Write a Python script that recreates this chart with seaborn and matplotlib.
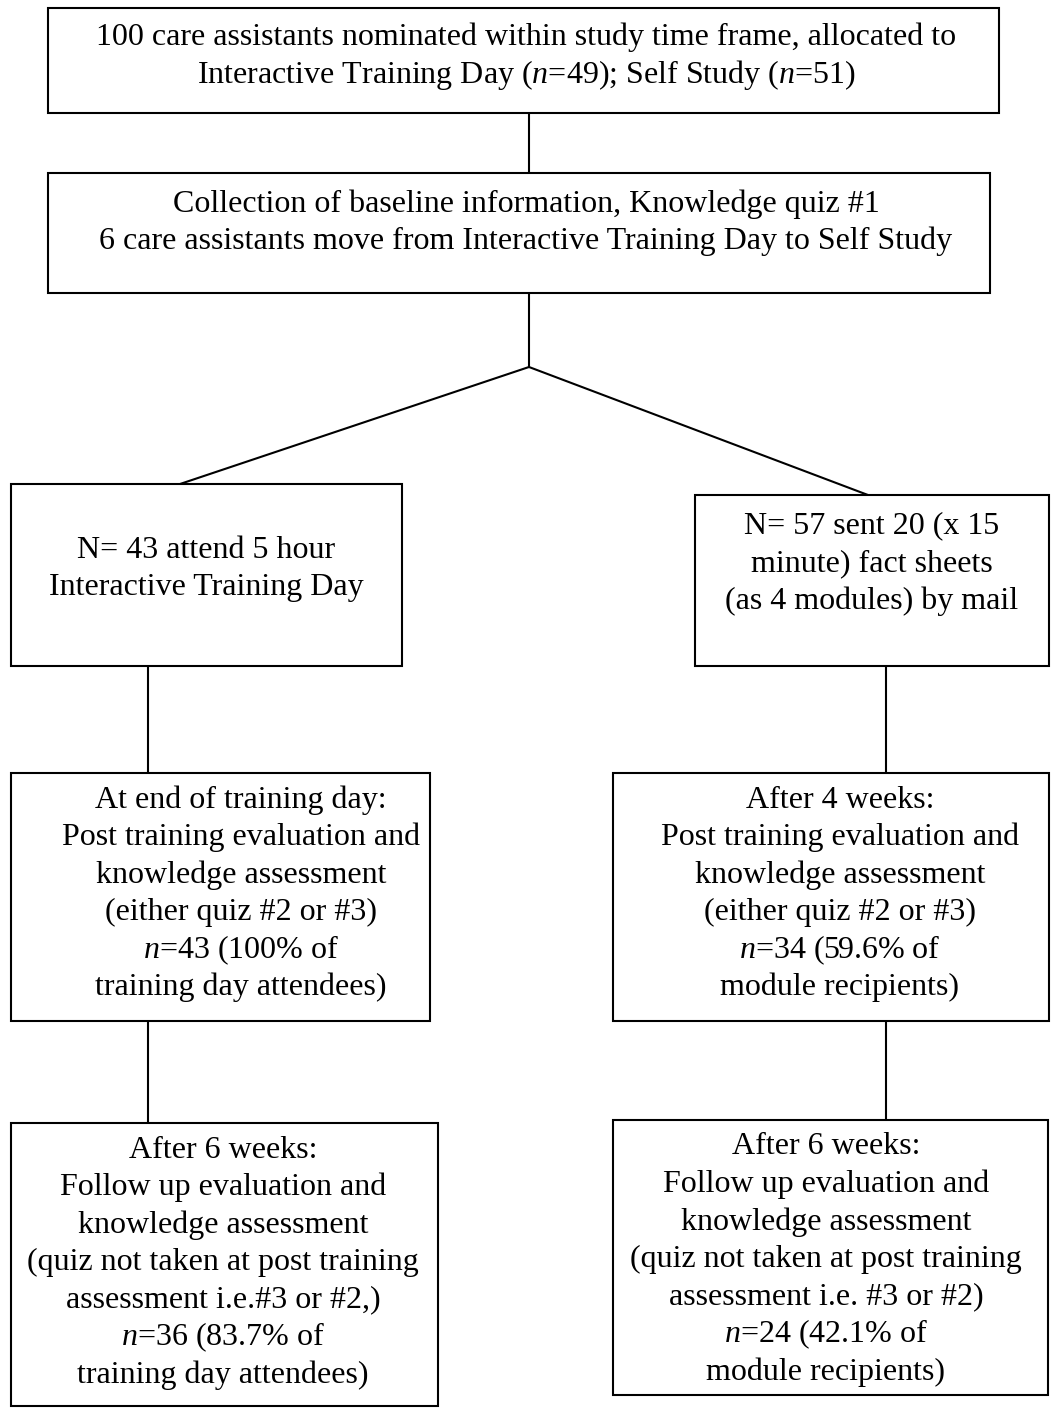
import matplotlib
matplotlib.use("Agg")
import matplotlib.pyplot as plt
from matplotlib.patches import Rectangle
import pandas as pd
import seaborn as sns

n_total = 100
n_alloc_itd = 49
n_alloc_ss = 51
n_moved = 6
n_itd = 43
n_ss = 57
n_sheets = 20
sheet_minutes = 15
n_modules = 4
n_post_itd = 43
pct_post_itd = "100"
n_post_ss = 34
pct_post_ss = "59.6"
n_fu_itd = 36
pct_fu_itd = "83.7"
n_fu_ss = 24
pct_fu_ss = "42.1"

box_names = ["b1", "b2", "b3", "b4", "b5", "b6", "b7", "b8"]
box_texts = [
    [f"{n_total} care assistants nominated within study time frame, allocated to",
     f"Interactive Training Day ($n$={n_alloc_itd}); Self Study ($n$={n_alloc_ss})"],
    ["Collection of baseline information, Knowledge quiz #1",
     f"{n_moved} care assistants move from Interactive Training Day to Self Study"],
    [f"N= {n_itd} attend 5 hour", "Interactive Training Day"],
    [f"N= {n_ss} sent {n_sheets} (x {sheet_minutes}", "minute) fact sheets",
     f"(as {n_modules} modules) by mail"],
    ["At end of training day:", "Post training evaluation and", "knowledge assessment",
     "(either quiz #2 or #3)", f"$n$={n_post_itd} ({pct_post_itd}% of", "training day attendees)"],
    ["After 4 weeks:", "Post training evaluation and", "knowledge assessment",
     "(either quiz #2 or #3)", f"$n$={n_post_ss} ({pct_post_ss}% of", "module recipients)"],
    ["After 6 weeks:", "Follow up evaluation and", "knowledge assessment",
     "(quiz not taken at post training", "assessment i.e.#3 or #2,)",
     f"$n$={n_fu_itd} ({pct_fu_itd}% of", "training day attendees)"],
    ["After 6 weeks:", "Follow up evaluation and", "knowledge assessment",
     "(quiz not taken at post training", "assessment i.e. #3 or #2)",
     f"$n$={n_fu_ss} ({pct_fu_ss}% of", "module recipients)"],
]

# connections between boxes (parent -> child)
edge_from = ["b1", "b2", "b2", "b2", "b3", "b4", "b5", "b6"]
edge_to = ["b2", "split", "b3", "b4", "b5", "b6", "b7", "b8"]

# ---------------- layout (pixels, y downwards) ----------------
W, H, DPI = 1051, 1409, 100
box_geom = {  # x0, x1, y0, y1
    "b1": (48, 999, 8, 113),
    "b2": (48, 990, 173, 293),
    "b3": (11, 402, 484, 666),
    "b4": (695, 1049, 495, 666),
    "b5": (11, 430, 773, 1021),
    "b6": (613, 1049, 773, 1021),
    "b7": (11, 438, 1123, 1406),
    "b8": (613, 1048, 1120, 1395),
}
text_anchor = {  # centre x, first line y
    "b1": (526, 37), "b2": (526, 204), "b3": (206, 550), "b4": (872, 526),
    "b5": (241, 800), "b6": (840, 800), "b7": (223, 1150), "b8": (826, 1147),
}
line_step = 37.5
edge_segments = {
    ("b1", "b2"): [(529, 113), (529, 173)],
    ("b2", "split"): [(529, 293), (529, 367)],
    ("b2", "b3"): [(529, 367), (180, 484)],
    ("b2", "b4"): [(529, 367), (868, 495)],
    ("b3", "b5"): [(148, 666), (148, 773)],
    ("b4", "b6"): [(886, 666), (886, 773)],
    ("b5", "b7"): [(148, 1021), (148, 1123)],
    ("b6", "b8"): [(886, 1021), (886, 1120)],
}

sns.set_theme(style="white")
plt.rcParams["font.family"] = ["Liberation Serif", "DejaVu Serif"]
plt.rcParams["mathtext.fontset"] = "custom"
plt.rcParams["mathtext.rm"] = "Liberation Serif"
plt.rcParams["mathtext.it"] = "Liberation Serif:italic"

fig = plt.figure(figsize=(W / DPI, H / DPI), dpi=DPI)
fig.patch.set_facecolor("white")
ax = fig.add_axes([0, 0, 1, 1])

rows = []
for i, (a, b) in enumerate(zip(edge_from, edge_to)):
    for (x, y) in edge_segments[(a, b)]:
        rows.append({"x": x, "y": y, "edge": i})
df_edges = pd.DataFrame(rows)
sns.lineplot(data=df_edges, x="x", y="y", units="edge", estimator=None, sort=False,
             color="black", linewidth=1.5, ax=ax, legend=False)

for name, lines in zip(box_names, box_texts):
    x0, x1, y0, y1 = box_geom[name]
    ax.add_patch(Rectangle((x0, y0), x1 - x0, y1 - y0, facecolor="white",
                           edgecolor="black", linewidth=1.5, zorder=3))
    cx, fy = text_anchor[name]
    for k, t in enumerate(lines):
        ax.text(cx, fy + k * line_step, t, ha="center", va="center",
                fontsize=23, color="black", zorder=4)

ax.set_xlim(0, W)
ax.set_ylim(H, 0)
ax.set_axis_off()

fig.savefig("out.png", dpi=DPI, facecolor="white")
